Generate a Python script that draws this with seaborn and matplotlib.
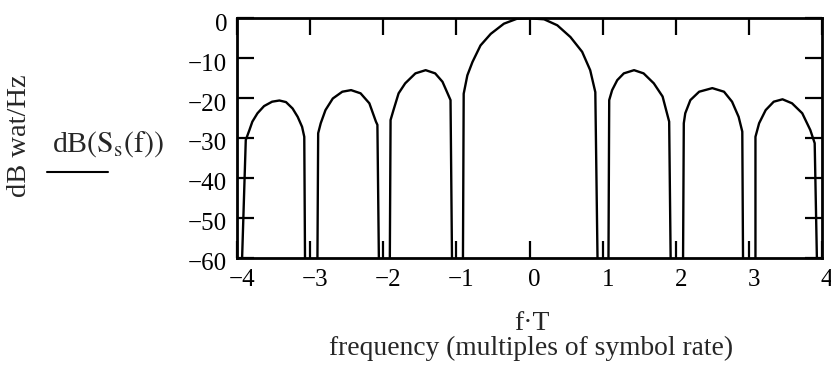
import matplotlib
matplotlib.use("Agg")
import matplotlib.pyplot as plt
import matplotlib.transforms as mtransforms
from matplotlib.lines import Line2D
import pandas as pd
import seaborn as sns

# Power spectral density of the symbol pulse, one list pair per lobe.
# Frequency in multiples of the symbol rate (f*T), level in dB.
# The walls at each lobe edge run down to the -60 dB floor of the plot.
lobe_m4_f = [-3.93, -3.88, -3.83, -3.79, -3.72, -3.63, -3.52, -3.42, -3.33, -3.24, -3.17, -3.11, -3.08, -3.07]
lobe_m4_db = [-60.0, -30.5, -28.0, -25.9, -23.8, -22.0, -20.9, -20.6, -21.0, -22.6, -24.7, -27.2, -29.7, -60.0]

lobe_m3_f = [-2.90, -2.89, -2.855, -2.79, -2.69, -2.56, -2.44, -2.31, -2.19, -2.10, -2.08, -2.06]
lobe_m3_db = [-60.0, -28.8, -26.3, -23.0, -20.1, -18.4, -18.0, -18.8, -21.3, -25.9, -26.7, -60.0]

lobe_m2_f = [-1.91, -1.90, -1.86, -1.79, -1.70, -1.56, -1.42, -1.29, -1.19, -1.13, -1.08, -1.06]
lobe_m2_db = [-60.0, -25.5, -23.0, -18.8, -16.3, -13.8, -13.0, -13.8, -15.9, -18.4, -20.5, -60.0]

main_f = [-0.91, -0.90, -0.85, -0.78, -0.67, -0.53, -0.35, -0.17, 0.0, 0.20, 0.38, 0.56, 0.72, 0.83, 0.90, 0.93]
main_db = [-60.0, -18.9, -14.3, -10.95, -6.8, -3.9, -1.35, -0.1, 0.0, -0.25, -1.75, -4.7, -8.4, -13.0, -18.5, -60.0]

lobe_p1_f = [1.08, 1.09, 1.13, 1.20, 1.29, 1.43, 1.56, 1.70, 1.82, 1.88, 1.91, 1.93]
lobe_p1_db = [-60.0, -20.5, -18.0, -15.5, -13.8, -13.0, -13.8, -16.3, -19.6, -23.8, -25.9, -60.0]

lobe_p2_f = [2.10, 2.11, 2.13, 2.20, 2.32, 2.50, 2.66, 2.77, 2.86, 2.91, 2.92]
lobe_p2_db = [-60.0, -26.3, -23.8, -20.5, -18.4, -17.5, -18.4, -20.9, -24.7, -28.4, -60.0]

lobe_p3_f = [3.09, 3.09, 3.14, 3.23, 3.34, 3.46, 3.59, 3.73, 3.84, 3.90, 3.93]
lobe_p3_db = [-60.0, -29.7, -26.3, -23.0, -20.9, -20.3, -21.3, -23.8, -28.0, -31.3, -60.0]

x_ticks = [-4, -3, -2, -1, 0, 1, 2, 3, 4]
y_ticks = [0, -10, -20, -30, -40, -50, -60]

lobes = [
    (lobe_m4_f, lobe_m4_db), (lobe_m3_f, lobe_m3_db), (lobe_m2_f, lobe_m2_db),
    (main_f, main_db),
    (lobe_p1_f, lobe_p1_db), (lobe_p2_f, lobe_p2_db), (lobe_p3_f, lobe_p3_db),
]
df = pd.concat(
    [pd.DataFrame({"fT": f, "dB": db, "lobe": i}) for i, (f, db) in enumerate(lobes)],
    ignore_index=True,
)

sns.set_style("ticks")
plt.rcParams["font.family"] = ["Liberation Serif", "DejaVu Serif"]
plt.rcParams["mathtext.fontset"] = "stix"
plt.rcParams["axes.unicode_minus"] = True

W, H = 831, 365
fig = plt.figure(figsize=(W / 100, H / 100), dpi=100)
fig.patch.set_facecolor("white")

left, right, top, bottom = 237, 822, 18.3, 257.7
ax = fig.add_axes([left / W, 1 - bottom / H, (right - left) / W, (bottom - top) / H])
ax.set_facecolor("white")

sns.lineplot(data=df, x="fT", y="dB", units="lobe", estimator=None, sort=False,
             color="black", linewidth=1.7, ax=ax)

ax.set_xlim(-4, 4)
ax.set_ylim(-60, 0)
ax.set_xticks(x_ticks)
ax.set_yticks(y_ticks)
ax.set_xlabel("")
ax.set_ylabel("")

for sp in ax.spines.values():
    sp.set_visible(True)
    sp.set_color("black")
    sp.set_linewidth(2.0)

ax.tick_params(direction="in", length=12, width=1.6, top=True, right=True,
               labelsize=18, colors="black")
ax.tick_params(axis="x", pad=8)
ax.tick_params(axis="y", pad=7)

# nudge tick labels the way the typeset figure places them
dx = mtransforms.ScaledTranslation(5 / 100, 0, fig.dpi_scale_trans)
for lab in ax.get_xticklabels():
    lab.set_transform(lab.get_transform() + dx)
dy = mtransforms.ScaledTranslation(0, -4 / 100, fig.dpi_scale_trans)
for lab in ax.get_yticklabels():
    lab.set_transform(lab.get_transform() + dy)


def fx(px):
    return px / W


def fy(py):
    return 1 - py / H


fig.text(fx(20), fy(136), "dB wat/Hz", rotation=90, ha="center", va="center", fontsize=20.5)
fig.text(fx(108), fy(144), r"dB$\left(\mathrm{S_s(f)}\right)$", ha="center", va="center", fontsize=21.5)
fig.add_artist(Line2D([fx(47), fx(108)], [fy(172), fy(172)], transform=fig.transFigure,
                      color="black", linewidth=1.5))

fig.text(fx(532), fy(324), "f\u00b7T", ha="center", va="center", fontsize=20)
fig.text(fx(531), fy(348), "frequency (multiples of symbol rate)", ha="center", va="center", fontsize=19.8)

fig.savefig("out.png", dpi=100, facecolor="white")
